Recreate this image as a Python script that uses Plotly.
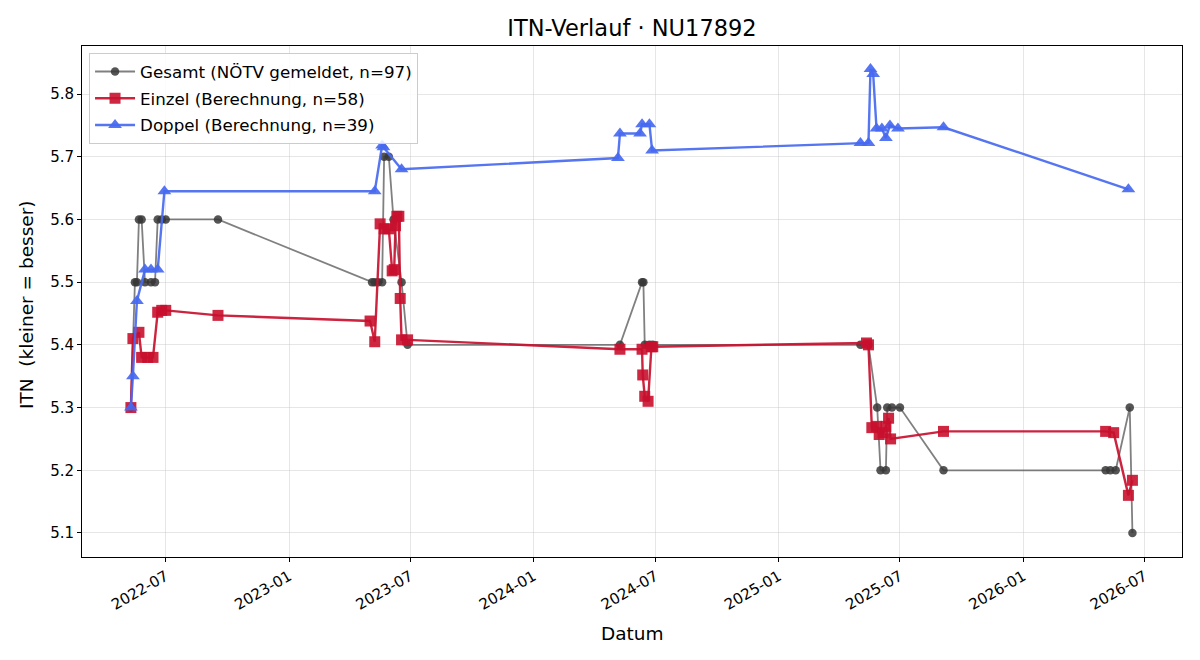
import plotly.graph_objects as go

# ---- data ----
gesamt_dates = ["2022-05-10", "2022-05-16", "2022-05-19", "2022-05-22", "2022-05-26", "2022-05-31",
                "2022-06-09", "2022-06-15", "2022-06-19", "2022-06-25", "2022-07-01", "2022-09-17",
                "2023-05-05", "2023-05-09", "2023-05-14", "2023-05-20", "2023-05-23", "2023-05-30",
                "2023-06-06", "2023-06-18", "2023-06-27",
                "2024-05-09", "2024-06-11", "2024-06-13", "2024-06-15", "2024-06-22", "2024-06-27",
                "2025-05-03", "2025-05-15", "2025-05-28", "2025-06-02", "2025-06-10", "2025-06-12",
                "2025-06-19", "2025-07-01", "2025-09-04",
                "2026-05-04", "2026-05-11", "2026-05-19", "2026-06-09", "2026-06-13"]
gesamt_vals = [5.3, 5.5, 5.5, 5.6, 5.6, 5.5,
               5.5, 5.5, 5.6, 5.6, 5.6, 5.6,
               5.5, 5.5, 5.5, 5.5, 5.7, 5.7,
               5.6, 5.5, 5.4,
               5.4, 5.5, 5.5, 5.4, 5.4, 5.4,
               5.4, 5.4, 5.3, 5.2, 5.2, 5.3,
               5.3, 5.3, 5.2,
               5.2, 5.2, 5.2, 5.3, 5.1]

einzel_dates = ["2022-05-10", "2022-05-13", "2022-05-22", "2022-05-26", "2022-06-04", "2022-06-12",
                "2022-06-19", "2022-06-25", "2022-07-01", "2022-09-17",
                "2023-05-02", "2023-05-09", "2023-05-17", "2023-05-23", "2023-05-30", "2023-06-04",
                "2023-06-07", "2023-06-09", "2023-06-11", "2023-06-14", "2023-06-16", "2023-06-18",
                "2023-06-27",
                "2024-05-09", "2024-06-11", "2024-06-12", "2024-06-15", "2024-06-20", "2024-06-25",
                "2024-06-27",
                "2025-05-12", "2025-05-15", "2025-05-20", "2025-05-27", "2025-05-31", "2025-06-06",
                "2025-06-10", "2025-06-14", "2025-06-17", "2025-09-04",
                "2026-05-04", "2026-05-16", "2026-06-07", "2026-06-13"]
einzel_vals = [5.300, 5.410, 5.420, 5.380, 5.380, 5.380,
               5.452, 5.455, 5.455, 5.447,
               5.438, 5.405, 5.593, 5.585, 5.585, 5.518,
               5.520, 5.590, 5.605, 5.605, 5.474, 5.408,
               5.408,
               5.393, 5.393, 5.352, 5.318, 5.310, 5.397,
               5.397,
               5.403, 5.400, 5.268, 5.270, 5.257, 5.260,
               5.270, 5.283, 5.250, 5.262,
               5.262, 5.260, 5.160, 5.184]

doppel_dates = ["2022-05-10", "2022-05-13", "2022-05-19", "2022-05-31", "2022-06-09", "2022-06-19",
                "2022-06-29",
                "2023-05-09", "2023-05-20", "2023-05-22", "2023-06-18",
                "2024-05-06", "2024-05-09", "2024-06-08", "2024-06-11", "2024-06-22", "2024-06-26",
                "2025-05-03", "2025-05-15", "2025-05-18", "2025-05-22", "2025-05-27", "2025-06-04",
                "2025-06-10", "2025-06-16", "2025-06-28", "2025-09-04",
                "2026-06-07"]
doppel_vals = [5.300, 5.350, 5.470, 5.520, 5.520, 5.520,
               5.645,
               5.645, 5.718, 5.715, 5.680,
               5.698, 5.737, 5.737, 5.752, 5.752, 5.710,
               5.722, 5.722, 5.840, 5.832, 5.745, 5.745,
               5.730, 5.750, 5.745, 5.747,
               5.648]

names = ["Gesamt (NÖTV gemeldet, n=97)", "Einzel (Berechnung, n=58)", "Doppel (Berechnung, n=39)"]

FONT = "DejaVu Sans"

fig = go.Figure()
fig.add_trace(go.Scatter(
    x=gesamt_dates, y=gesamt_vals, mode="lines+markers", name=names[0], legendgroup="g",
    line=dict(color="rgba(85,85,85,0.75)", width=1.8),
    marker=dict(symbol="circle", size=8.5, color="rgba(55,55,55,0.85)"),
))
fig.add_trace(go.Scatter(
    x=einzel_dates, y=einzel_vals, mode="lines+markers", name=names[1], legendgroup="e",
    line=dict(color="rgba(200,16,46,0.92)", width=2.4),
    marker=dict(symbol="square", size=11, color="rgba(200,16,46,0.9)"),
))
fig.add_trace(go.Scatter(
    x=doppel_dates, y=doppel_vals, mode="lines+markers", name=names[2], legendgroup="d",
    line=dict(color="rgba(70,105,240,0.92)", width=2.4),
    marker=dict(symbol="triangle-up", size=12, color="rgba(70,105,240,0.92)"),
))

fig.update_layout(
    width=1200, height=660,
    margin=dict(l=82, r=18, t=46, b=103),
    paper_bgcolor="white", plot_bgcolor="white",
    font=dict(family=FONT, size=15, color="black"),
    title=dict(text="ITN-Verlauf · NU17892", x=0.5, xanchor="center", xref="paper",
               y=1 - 28 / 660, yanchor="middle", yref="container",
               font=dict(family=FONT, size=22.5, color="black")),
    showlegend=True,
    legend=dict(x=0.0064, y=0.986, xanchor="left", yanchor="top",
                bgcolor="rgba(255,255,255,0.85)", bordercolor="#cccccc", borderwidth=1,
                font=dict(family=FONT, size=16.7), itemwidth=40, tracegroupgap=2),
    hovermode=False,
)

fig.update_xaxes(
    type="date", range=["2022-02-26", "2026-08-26"],
    dtick="M6", tick0="2022-01-01", tickformat="%Y-%m", tickangle=-30,
    showgrid=True, gridcolor="rgba(200,200,200,0.45)", gridwidth=1,
    showline=True, linecolor="black", linewidth=1, mirror=True,
    ticks="outside", ticklen=4, tickcolor="black",
    tickfont=dict(family=FONT, size=15), zeroline=False,
)
fig.update_yaxes(
    range=[5.0617, 5.8766], dtick=0.1, tick0=5.0, tickformat=".1f",
    showgrid=True, gridcolor="rgba(200,200,200,0.45)", gridwidth=1,
    showline=True, linecolor="black", linewidth=1, mirror=True,
    ticks="outside", ticklen=4, tickcolor="black",
    tickfont=dict(family=FONT, size=15), zeroline=False,
)

fig.add_annotation(text="Datum", xref="paper", yref="paper", x=0.5, y=-(633 - 557) / 511,
                   xanchor="center", yanchor="middle", showarrow=False,
                   font=dict(family=FONT, size=18.5))
fig.add_annotation(text="ITN\u00a0 (kleiner = besser)", xref="paper", yref="paper",
                   x=-(82 - 26) / 1100, y=(557 - 305) / 511, textangle=-90,
                   xanchor="center", yanchor="middle", showarrow=False,
                   font=dict(family=FONT, size=18.5))

fig.write_html("out.html")
